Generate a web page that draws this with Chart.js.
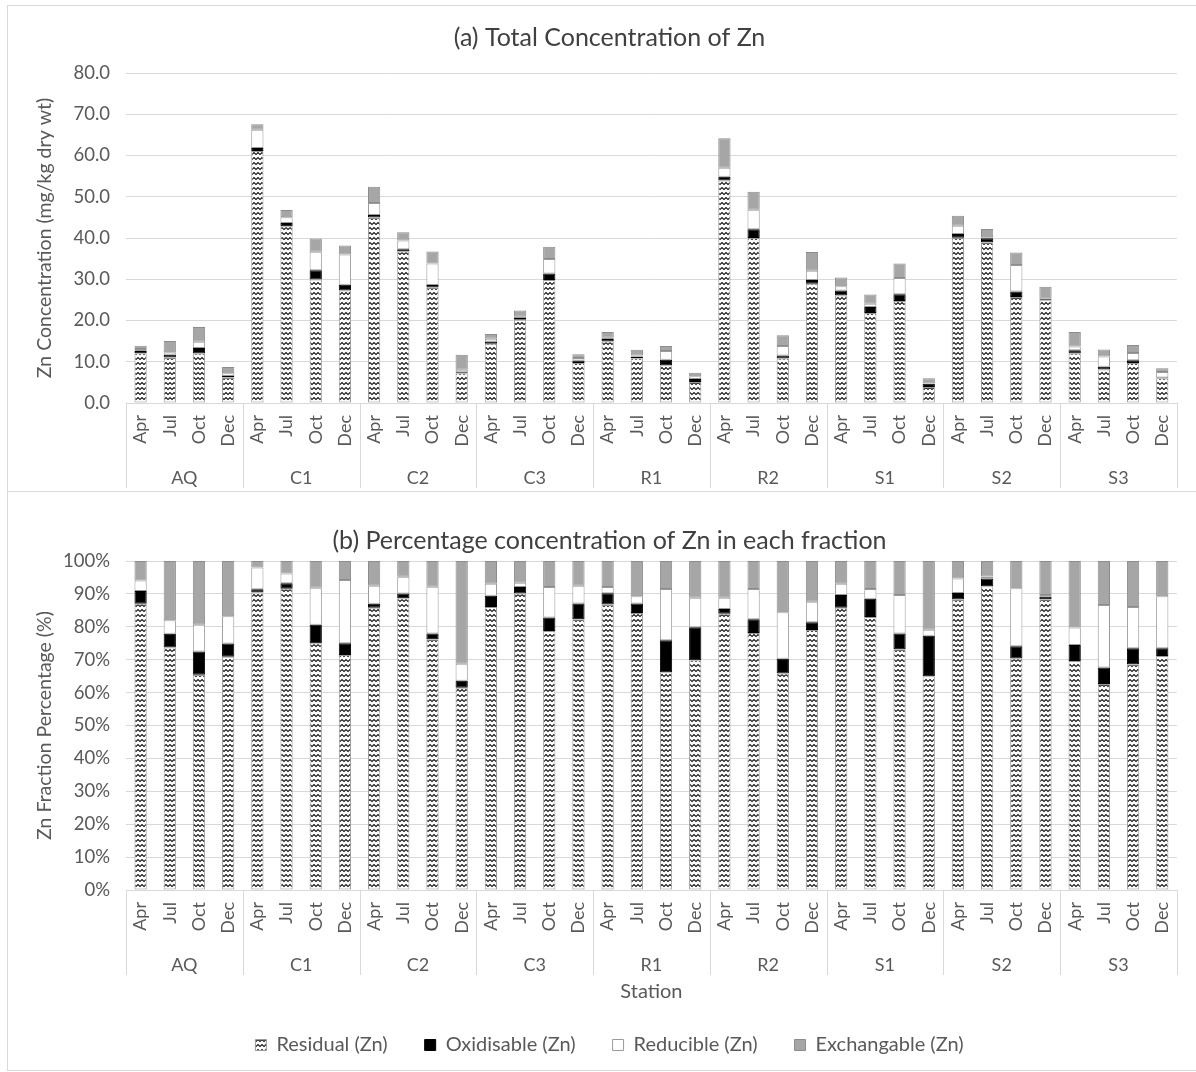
<!DOCTYPE html>
<html>
<head>
<meta charset="utf-8">
<script src="https://cdn.jsdelivr.net/npm/chart.js@4.4.1/dist/chart.umd.min.js"></script>
<style>
html,body{margin:0;padding:0;background:#fff;width:1196px;height:1072px;overflow:hidden;}
#frame{position:absolute;left:7px;top:5px;width:1195px;height:1066px;border:1px solid #d9d9d9;box-sizing:border-box;}
#divider{position:absolute;left:7px;top:491px;width:1189px;height:1px;background:#d9d9d9;}
.box{position:absolute;left:8px;width:1188px;}
#boxA{top:6px;height:485px;}
#boxB{top:493px;height:577px;}
</style>
</head>
<body>
<div id="frame"></div>
<div id="divider"></div>
<div class="box" id="boxA"><canvas id="chartA"></canvas></div>
<div class="box" id="boxB"><canvas id="chartB"></canvas></div>
<script>
// ---------- DATA ----------
const stations = ['AQ','C1','C2','C3','R1','R2','S1','S2','S3'];
const months = ['Apr','Jul','Oct','Dec'];
const seriesNames = ['Residual (Zn)','Oxidisable (Zn)','Reducible (Zn)','Exchangable (Zn)'];

// (a) concentrations, mg/kg dry wt (order: AQ Apr..Dec, C1 ..., S3)
const residualConc = [12.09,11.06,12.03,6.17, 61.11,42.87,29.93,27.27, 44.96,36.72,27.97,7.20, 14.36,20.18,29.83,9.71, 14.93,10.86,9.14,5.10, 53.93,39.99,10.79,28.91, 26.08,21.83,24.74,3.90, 40.09,38.95,25.70,24.93, 11.97,8.14,9.67,5.97];
const oxidConc     = [0.54,0.63,1.31,0.35, 0.68,0.75,2.23,1.38, 0.63,0.58,0.66,0.25, 0.57,0.45,1.55,0.57, 0.58,0.37,1.34,0.74, 0.90,2.15,0.74,0.88, 1.19,1.45,1.62,0.74, 0.91,1.01,1.35,0.20, 0.84,0.65,0.69,0.20];
const reducConc    = [0.44,0.62,1.49,0.72, 4.46,1.40,4.51,7.33, 2.88,2.11,5.21,0.61, 0.62,0.29,3.52,0.64, 0.33,0.28,2.15,0.65, 2.18,4.71,2.31,2.27, 1.03,0.79,3.95,0.11, 2.00,0.25,6.42,0.17, 0.91,2.47,1.76,1.33];
const exchConc     = [0.82,2.70,3.57,1.46, 1.35,1.78,3.23,2.22, 3.93,1.99,2.86,3.65, 1.15,1.48,2.99,0.89, 1.36,1.38,1.17,0.82, 7.19,4.35,2.56,4.54, 2.10,2.24,3.48,1.25, 2.41,1.98,3.03,2.90, 3.47,1.74,1.97,0.90];

// (b) percentages
const residualPct = [87.0,73.7,65.4,70.9, 90.4,91.6,75.0,71.4, 85.8,88.7,76.2,61.5, 86.0,90.1,78.7,82.3, 86.8,84.2,66.2,69.8, 84.0,78.1,65.8,79.0, 85.8,83.0,73.2,65.0, 88.3,92.3,70.4,88.4, 69.6,62.6,68.6,71.1];
const oxidPct     = [3.9,4.2,7.1,4.0, 1.0,1.6,5.6,3.6, 1.2,1.4,1.8,2.1, 3.4,2.0,4.1,4.8, 3.4,2.9,9.7,10.1, 1.4,4.2,4.5,2.4, 3.9,5.5,4.8,12.3, 2.0,2.4,3.7,0.7, 4.9,5.0,4.9,2.4];
const reducPct    = [3.2,4.1,8.1,8.3, 6.6,3.0,11.3,19.2, 5.5,5.1,14.2,5.2, 3.7,1.3,9.3,5.4, 1.9,2.2,15.6,8.9, 3.4,9.2,14.1,6.2, 3.4,3.0,11.7,1.8, 4.4,0.6,17.6,0.6, 5.3,19.0,12.5,15.8];
const exchPct     = [5.9,18.0,19.4,16.8, 2.0,3.8,8.1,5.8, 7.5,4.8,7.8,31.2, 6.9,6.6,7.9,7.5, 7.9,10.7,8.5,11.2, 11.2,8.5,15.6,12.4, 6.9,8.5,10.3,20.9, 5.3,4.7,8.3,10.3, 20.2,13.4,14.0,10.7];

// tick labels for the month level
const monthLabels = [];
stations.forEach(() => months.forEach(m => monthLabels.push(m)));

// ---------- STYLE ----------
const FONT = 'Lato';
const TXT = '#595959';
const GRID = '#d9d9d9';

function zigzag() {
  const c = document.createElement('canvas');
  c.width = 4; c.height = 5;
  const g = c.getContext('2d');
  g.fillStyle = '#ffffff'; g.fillRect(0, 0, 4, 5);
  g.strokeStyle = '#111111'; g.lineWidth = 1.2;
  g.beginPath(); g.moveTo(-0.5, 4); g.lineTo(2, 1.5); g.lineTo(4.5, 4); g.stroke();
  return g.createPattern(c, 'repeat');
}
const residualFill = zigzag();

const fills = [residualFill, '#000000', '#ffffff', '#a6a6a6'];
const borders = ['#9a9a9a', '#000000', '#9a9a9a', '#8c8c8c'];

function makeDatasets(arrs) {
  return arrs.map((a, i) => ({
    label: seriesNames[i],
    data: a,
    backgroundColor: fills[i],
    borderColor: borders[i],
    borderWidth: 1,
    borderSkipped: false,
    barPercentage: 0.42,
    categoryPercentage: 1.0
  }));
}

const groupLines = {
  id: 'groupLines',
  afterDraw(chart) {
    const x = chart.scales.x, x2 = chart.scales.x2, ctx = chart.ctx;
    const n = months.length;
    ctx.save();
    ctx.strokeStyle = GRID; ctx.lineWidth = 1;
    for (let g = 0; g <= stations.length; g++) {
      let px;
      if (g === 0) px = x.left;
      else if (g === stations.length) px = x.right;
      else px = (x.getPixelForValue(g * n - 1) + x.getPixelForValue(g * n)) / 2;
      px = Math.round(px) + 0.5;
      ctx.beginPath();
      ctx.moveTo(px, chart.chartArea.bottom);
      ctx.lineTo(px, x2.top + 30);
      ctx.stroke();
    }
    ctx.restore();
  }
};

function makeOptions(cfg) {
  return {
    responsive: true,
    maintainAspectRatio: false,
    animation: false,
    devicePixelRatio: 1,
    layout: { padding: { left: 25, right: 10, top: 0, bottom: cfg.padBottom } },
    plugins: {
      title: {
        display: true, text: cfg.title, color: '#404040',
        font: { family: FONT, size: 25, weight: 'normal' },
        padding: cfg.titlePad
      },
      legend: {
        display: cfg.legend, position: 'bottom',
        labels: { color: TXT, font: { family: FONT, size: 20 }, boxWidth: 11, boxHeight: 11, padding: 37 }
      },
      tooltip: { enabled: false }
    },
    scales: {
      x: {
        stacked: true, offset: true, weight: 0,
        grid: { display: false, drawTicks: false },
        border: { display: true, color: GRID },
        ticks: { autoSkip: false, maxRotation: 90, minRotation: 90, padding: 12, color: TXT, font: { family: FONT, size: 18 } },
        afterFit(s) { s.height = 55; }
      },
      x2: {
        type: 'category', labels: stations, position: 'bottom', offset: true, weight: 1,
        grid: { display: false, drawTicks: false },
        border: { display: false },
        ticks: { padding: 9, color: TXT, font: { family: FONT, size: 18 } },
        title: { display: cfg.stationTitle, text: 'Station', color: TXT, font: { family: FONT, size: 20 }, padding: { top: 0, bottom: -6 } },
        afterFit(s) { s.height = cfg.x2H; }
      },
      y: {
        stacked: true, min: 0, max: cfg.yMax,
        grid: { color: GRID, drawTicks: false },
        border: { display: false },
        ticks: { stepSize: 10, padding: 16, color: TXT, font: { family: FONT, size: 18.5 }, callback: cfg.fmt },
        title: { display: true, text: cfg.yTitle, color: TXT, font: { family: FONT, size: 19.5 }, padding: { top: 0, bottom: 0 } },
        afterFit(s) { s.width = 93; }
      }
    }
  };
}

new Chart(document.getElementById('chartA'), {
  type: 'bar',
  data: { labels: monthLabels, datasets: makeDatasets([residualConc, oxidConc, reducConc, exchConc]) },
  options: makeOptions({
    title: '(a) Total Concentration of Zn',
    titlePad: { top: 17, bottom: 20 },
    yTitle: 'Zn Concentration (mg/kg dry wt)',
    yMax: 80, fmt: v => v.toFixed(1),
    legend: false, stationTitle: false, x2H: 33, padBottom: 0
  }),
  plugins: [groupLines]
});

new Chart(document.getElementById('chartB'), {
  type: 'bar',
  data: { labels: monthLabels, datasets: makeDatasets([residualPct, oxidPct, reducPct, exchPct]) },
  options: makeOptions({
    title: '(b) Percentage concentration of Zn in each fraction',
    titlePad: { top: 33, bottom: 5 },
    yTitle: 'Zn Fraction Percentage (%)',
    yMax: 100, fmt: v => v + '%',
    legend: true, stationTitle: true, x2H: 53, padBottom: 5
  }),
  plugins: [groupLines]
});
</script>
</body>
</html>
